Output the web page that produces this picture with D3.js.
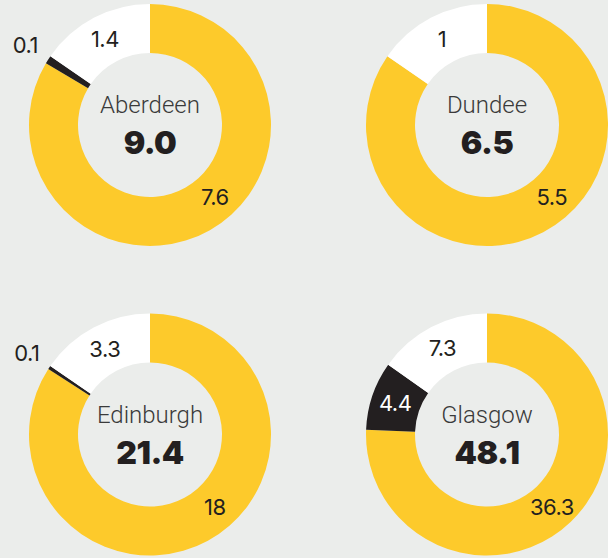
<!DOCTYPE html>
<html>
<head>
<meta charset="utf-8">
<script src="https://cdn.jsdelivr.net/npm/d3@7"></script>
<style>
  html, body { margin: 0; padding: 0; background: #ebedeb; }
  svg { display: block; }
</style>
</head>
<body>
<div id="chart"></div>
<script>
// Cities and their three parts (yellow, black, white), clockwise from 12 o'clock
const cities = ["Aberdeen", "Dundee", "Edinburgh", "Glasgow"];
const yellowValues = [7.6, 5.5, 18, 36.3];
const blackValues = [0.1, 0, 0.1, 4.4];
const whiteValues = [1.4, 1, 3.3, 7.3];
const totals = ["9.0", "6.5", "21.4", "48.1"];

const W = 608, H = 558;
const outerR = 121, innerR = 72;
const colors = ["#fdca2b", "#231f20", "#ffffff"];

const svg = d3.select("#chart").append("svg")
    .attr("width", W)
    .attr("height", H);

svg.append("rect").attr("width", W).attr("height", H).attr("fill", "#ebedeb");

const colX = d3.scalePoint().domain([0, 1]).range([150, 487]);
const rowY = d3.scalePoint().domain([0, 1]).range([125, 434.5]);

const pie = d3.pie().sort(null).value(d => d);
const arc = d3.arc().innerRadius(innerR).outerRadius(outerR);
const labelArc = d3.arc().innerRadius(97).outerRadius(97);
const outsideArc = d3.arc().innerRadius(148).outerRadius(148);

cities.forEach((city, i) => {
    const vals = [yellowValues[i], blackValues[i], whiteValues[i]];
    const arcs = pie(vals);
    const g = svg.append("g")
        .attr("transform", `translate(${colX(i % 2)},${rowY(Math.floor(i / 2))})`);

    g.selectAll("path")
        .data(arcs).enter().append("path")
        .attr("d", arc)
        .attr("fill", (d, j) => colors[j]);

    // segment labels
    arcs.forEach((d, j) => {
        if (d.value === 0) return;
        let pos;
        if (j === 0) {
            // yellow label sits at lower right of the ring
            const a = 138 * Math.PI / 180;
            pos = [97 * Math.sin(a), -97 * Math.cos(a)];
        } else if (d.endAngle - d.startAngle < 0.15) {
            pos = outsideArc.centroid(d);
        } else {
            pos = labelArc.centroid(d);
        }
        g.append("text")
            .attr("x", pos[0])
            .attr("y", pos[1])
            .attr("text-anchor", "middle")
            .attr("dominant-baseline", "central")
            .style("font-family", "Inter, 'Noto Sans', sans-serif")
            .style("font-size", "22px")
            .style("letter-spacing", "-0.5px")
            .style("fill", j === 1 && d.endAngle - d.startAngle >= 0.15 ? "#fff" : "#231f20")
            .text(d.value);
    });

    g.append("text")
        .attr("y", -12)
        .attr("text-anchor", "middle")
        .style("font-family", "Roboto, Inter, sans-serif")
        .style("font-weight", 300)
        .style("font-size", "24px")
        .style("fill", "#3a3a3a")
        .text(city);

    g.append("text")
        .attr("y", 29)
        .attr("text-anchor", "middle")
        .style("font-family", "Inter, 'Noto Sans', sans-serif")
        .style("font-weight", 900)
        .style("font-size", "32px")
        .style("letter-spacing", "-0.5px")
        .style("fill", "#231f20")
        .text(totals[i]);
});
</script>
</body>
</html>
